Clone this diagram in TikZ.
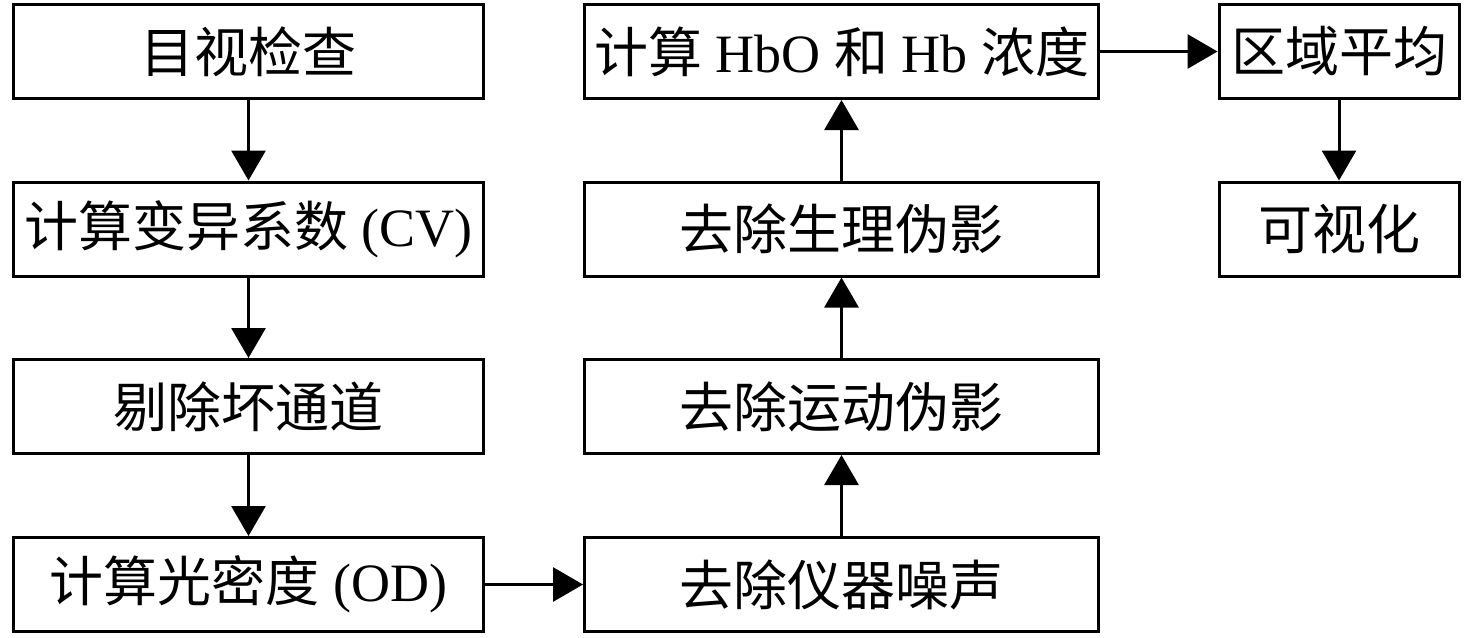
\documentclass[tikz,border=0pt]{standalone}
\usepackage{fontspec}
\setmainfont{Liberation Serif}
\newfontfamily\cjk{Noto Sans CJK SC}
\usetikzlibrary{arrows.meta}
\begin{document}
\begin{tikzpicture}[x=0.5pt,y=-0.5pt,
  box/.style={draw,line width=1.5pt,minimum height=47pt,inner sep=0pt,font=\fontsize{27}{31}\selectfont},
  lbox/.style={box,minimum width=235pt},
  mbox/.style={box,minimum width=257pt},
  rbox/.style={box,minimum width=120pt},
  conn/.style={line width=1.5pt,-{Triangle[width=17pt,length=15pt]}}]
\useasboundingbox (0,0) rectangle (1476,637);
\node[lbox] (a1) at (248.5,51.5) {\cjk 目视检查};
\node[lbox] (a2) at (248.5,229) {{\cjk 计算变异系数} (CV)};
\node[lbox] (a3) at (248.5,406.5) {\cjk 剔除坏通道};
\node[lbox] (a4) at (248.5,584.5) {{\cjk 计算光密度} (OD)};
\node[mbox] (b1) at (841.5,584.5) {\cjk 去除仪器噪声};
\node[mbox] (b2) at (841.5,406.5) {\cjk 去除运动伪影};
\node[mbox] (b3) at (841.5,229) {\cjk 去除生理伪影};
\node[mbox] (b4) at (841.5,51.5) {{\cjk 计算} HbO {\cjk 和} Hb {\cjk 浓度}};
\node[rbox] (c1) at (1339,51.5) {\cjk 区域平均};
\node[rbox] (c2) at (1339,229) {\cjk 可视化};
\draw[conn] (a1) -- (a2);
\draw[conn] (a2) -- (a3);
\draw[conn] (a3) -- (a4);
\draw[conn] (a4) -- (b1);
\draw[conn] (b1) -- (b2);
\draw[conn] (b2) -- (b3);
\draw[conn] (b3) -- (b4);
\draw[conn] (b4) -- (c1);
\draw[conn] (c1) -- (c2);
\end{tikzpicture}
\end{document}
